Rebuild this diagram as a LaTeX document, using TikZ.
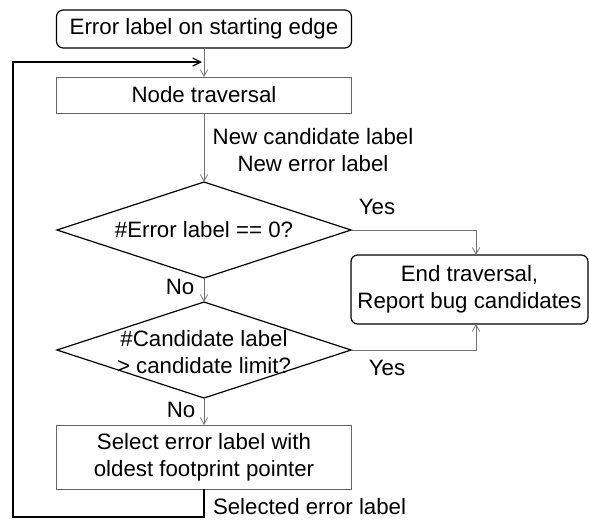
\documentclass[tikz,border=0pt]{standalone}
\usepackage{fontspec}
\setmainfont{Liberation Sans}
\usetikzlibrary{shapes.geometric,arrows.meta}
\begin{document}
\begin{tikzpicture}[x=0.75pt,y=-0.75pt,
  font=\fontsize{16.7pt}{20.25pt}\selectfont,
  every node/.style={inner sep=0pt, outer sep=0pt},
  termbox/.style={draw=black, line width=0.9pt, rounded corners=5pt},
  procbox/.style={draw=black!60, line width=0.7pt, minimum width=221.25pt},
  decision/.style={diamond, draw=black, line width=0.9pt,
    minimum width=220.5pt, minimum height=72pt},
  conn/.style={draw=black!55, line width=0.6pt,
    -{Straight Barb[length=5pt,width=5.5pt]}},
  backedge/.style={draw=black, line width=0.9pt,
    -{Straight Barb[length=6pt,width=6pt]}},
  lbl/.style={align=center}
]
\useasboundingbox (0,0) rectangle (589,519);

% main column
\node[termbox, minimum width=221.25pt, minimum height=28.5pt] (start) at (204,29) {Error label on starting edge};
\node[procbox, minimum height=27pt] (trav) at (204,95) {Node traversal};
\node[decision] (d1) at (204,230) {};
\node (d1t) at (204,230) {\#Error label == 0?};
\node[decision] (d2) at (204,350) {};
\node[lbl] (d2t) at (204,352) {\#Candidate label\\> candidate limit?};
\node[procbox, minimum height=48pt, align=center] (sel) at (204,457) {Select error label with\\oldest footprint pointer};

% terminal on the right
\node[termbox, minimum width=177.75pt, minimum height=51.75pt, align=center] (end) at (469.5,289.5) {End traversal,\\Report bug candidates};

% helper points
\coordinate (yx) at (476,0);
\coordinate (lb) at (13,517);
\coordinate (lt) at (13,62);

% connectors
\draw[conn] (start.south) -- (trav.north);
\draw[conn] (trav.south) -- (d1.north);
\draw[conn] (d1.south) -- (d2.north);
\draw[conn] (d2.south) -- (sel.north);
\draw[conn] (d1.east) -| (yx |- end.north);
\draw[conn] (d2.east) -| (yx |- end.south);
\draw[backedge] (sel.south) |- (lb) -- (lt) -- ([xshift=-1.5pt]lt -| trav.north);

% connector labels
\node[lbl] (newlbl) at (313,150) {New candidate label\\New error label};
\node (yes1) at (377,207) {Yes};
\node (yes2) at (387,368) {Yes};
\node (no1) at (180,287) {No};
\node (no2) at (181,410) {No};
\node[anchor=west] (sellbl) at (213,507) {Selected error label};
\end{tikzpicture}
\end{document}
